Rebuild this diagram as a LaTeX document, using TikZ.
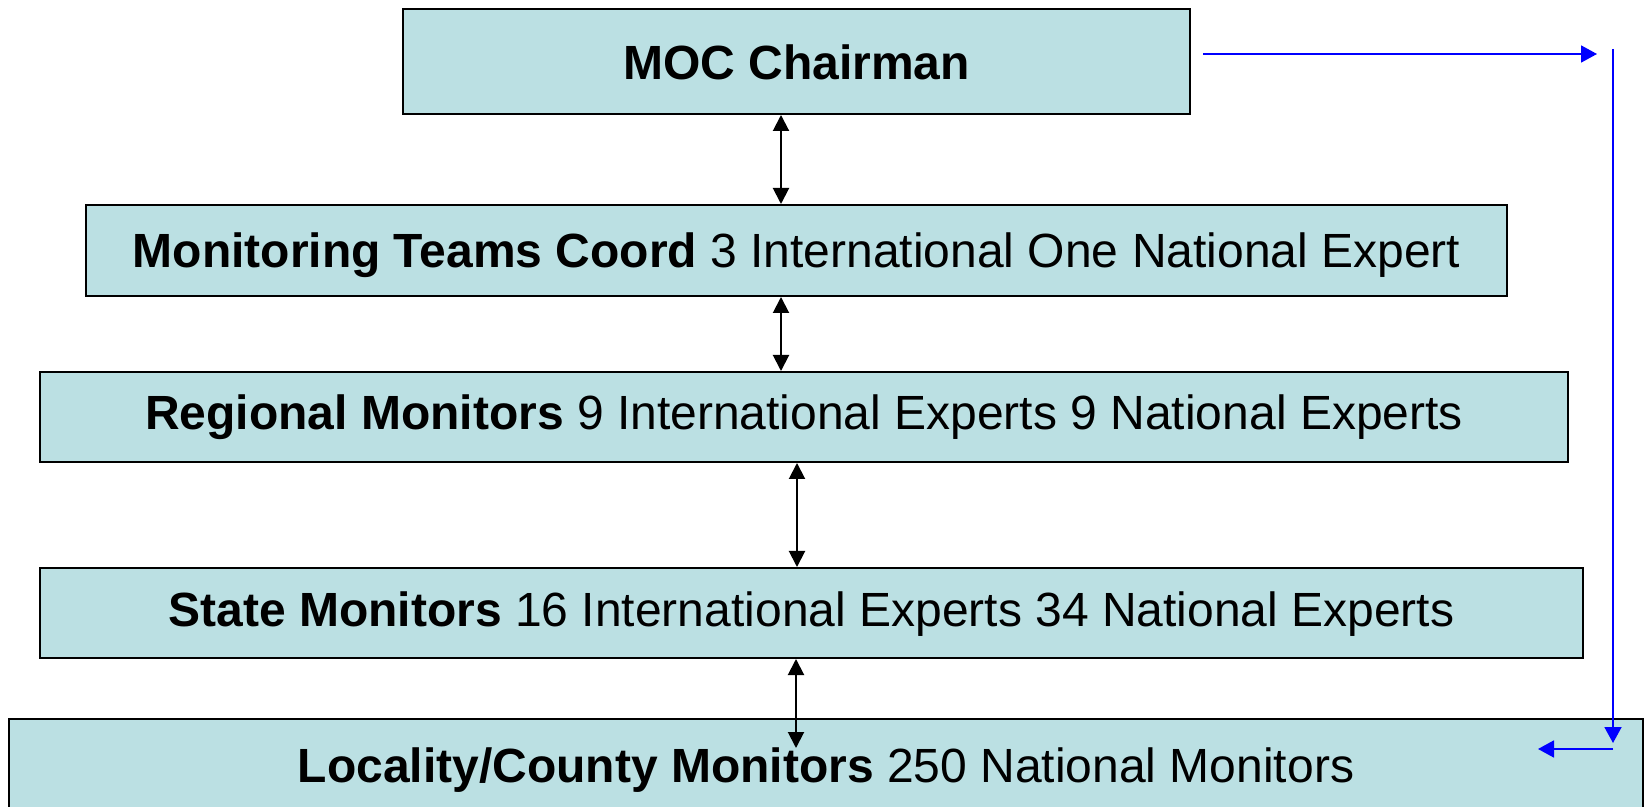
\documentclass[tikz,border=0pt]{standalone}
\usepackage{fontspec}
\setmainfont{Liberation Sans}
\usetikzlibrary{arrows.meta}
\definecolor{boxfill}{RGB}{187,224,227}
\definecolor{linkblue}{RGB}{0,0,255}
\newcommand{\lowtext}[2]{\raisebox{-#1}[\height][\depth]{#2}}
\begin{document}
\begin{tikzpicture}[x=0.5pt,y=-0.5pt,
  orgbox/.style={draw=black,line width=1pt,fill=boxfill,inner sep=0pt,
    font=\fontsize{24}{28}\selectfont,text=black},
  dblarrow/.style={line width=1pt,draw=black,{Triangle[length=8pt,width=8pt]}-{Triangle[length=8pt,width=8pt]}},
  bluearrow/.style={line width=0.9pt,draw=linkblue,-{Triangle[length=8pt,width=8.5pt]}}]
\clip (0,0) rectangle (1645,807);
\fill[white] (0,0) rectangle (1645,807);

\node[orgbox,minimum width=393.5pt,minimum height=52.5pt] (moc) at (796.5,61.5) {\lowtext{0.5pt}{\textbf{MOC Chairman}}};
\node[orgbox,minimum width=710.5pt,minimum height=45.5pt] (coord) at (796.5,250.5) {\lowtext{2.5pt}{\textbf{Monitoring Teams Coord} 3 International One National Expert}};
\node[orgbox,minimum width=764pt,minimum height=45pt] (reg) at (804,417) {\lowtext{0pt}{\textbf{Regional Monitors} 9 International Experts 9 National Experts}};
\node[orgbox,minimum width=771.5pt,minimum height=45pt] (state) at (811.5,613) {\lowtext{0.5pt}{\textbf{State Monitors} 16 International Experts 34 National Experts}};
\node[orgbox,minimum width=817pt,minimum height=47pt] (loc) at (826,766) {\lowtext{2pt}{\textbf{Locality/County Monitors} 250 National Monitors}};

% black double arrows
\coordinate (xa) at (781,0);
\coordinate (xb) at (797,0);
\coordinate (xc) at (796,0);
\coordinate (a4end) at (796,748);
\draw[dblarrow] (xa |- moc.south) -- (xa |- coord.north);
\draw[dblarrow] (xa |- coord.south) -- (xa |- reg.north);
\draw[dblarrow] (xb |- reg.south) -- (xb |- state.north);
\draw[dblarrow] (xc |- state.south) -- (a4end);

% blue connectors
\coordinate (b1s) at (1203,54);
\coordinate (b1e) at (1597,54);
\coordinate (b2s) at (1613,49);
\coordinate (b2e) at (1613,743);
\coordinate (b3s) at (1613,749);
\coordinate (b3e) at (1538,749);
\draw[bluearrow] (b1s) -- (b1e);
\draw[bluearrow] (b2s) -- (b2e);
\draw[bluearrow] (b3s) -- (b3e);
\end{tikzpicture}
\end{document}
